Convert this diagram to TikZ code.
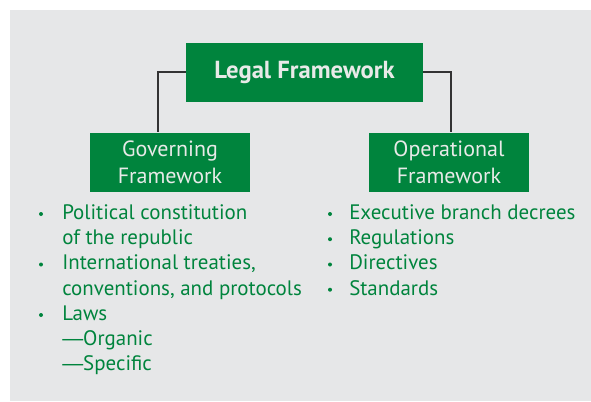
\documentclass[tikz,border=0pt]{standalone}
\usepackage{fontspec}
\setmainfont{PT Sans}
\newfontfamily\dashfont{Liberation Sans}
\usepackage{tikz}
\usetikzlibrary{positioning}
\definecolor{lawgreen}{HTML}{00843D}
\definecolor{panelgray}{HTML}{E6E7E8}
\definecolor{boxtext}{HTML}{E8EAE8}
\tikzstyle{headbox} = [rectangle, minimum width=177.75pt, minimum height=44.25pt, text centered, fill=lawgreen, text=boxtext, font=\fontsize{18.5}{20}\selectfont\bfseries]
\tikzstyle{branch} = [rectangle, minimum width=120pt, minimum height=44.25pt, align=center, fill=lawgreen, text=boxtext, font=\fontsize{16.5}{20}\selectfont]
\tikzstyle{entry} = [anchor=base west, inner sep=0pt, text=lawgreen, font=\fontsize{15.7}{18}\selectfont]
\tikzstyle{dot} = [circle, inner sep=0pt, minimum size=3pt, fill=lawgreen]
\tikzstyle{link} = [line width=0.8pt, draw=black!80]

\begin{document}
\begin{tikzpicture}[x=0.75pt, y=0.75pt, node distance=67.5pt and 100.875pt, on grid]
	\useasboundingbox (0,0) rectangle (591,-401);
	\fill[panelgray] (10,-10) rectangle (591,-401);

	\node (legal) [headbox] at (304.5,-72) {Legal Framework};
	\node (gov) [branch, below left=67.5pt and 100.875pt of legal] {Governing\\Framework};
	\node (oper) [branch, below right=67.5pt and 108.375pt of legal] {Operational\\Framework};

	\coordinate (govtop) at (158,-132);
	\coordinate (opertop) at (451,-132);
	\draw [link] (legal.west) -| (govtop);
	\draw [link] (legal.east) -| (opertop);

	% governing list
	\node (pol1) [entry] at (62,-219.3) {Political constitution};
	\node (pol2) [entry] at (62,-244.5) {of the republic};
	\node (int1) [entry] at (62,-269.8) {International treaties,};
	\node (int2) [entry] at (62,-295) {conventions, and protocols};
	\node (laws) [entry] at (62,-320.3) {Laws};
	\node (organic) [entry] at (62,-345.5) {{\dashfont\textemdash}Organic};
	\node (specific) [entry] at (62,-370.8) {{\dashfont\textemdash}Specific};
	\node (dotpol) [dot] at (41,-214) {};
	\node (dotint) [dot] at (41,-264.5) {};
	\node (dotlaws) [dot] at (41,-315) {};

	% operational list
	\node (decrees) [entry] at (349,-219.3) {Executive branch decrees};
	\node (regs) [entry] at (349,-244.5) {Regulations};
	\node (dirs) [entry] at (349,-269.8) {Directives};
	\node (stds) [entry] at (349,-295) {Standards};
	\node (dotdec) [dot] at (330,-214) {};
	\node (dotreg) [dot] at (330,-239.2) {};
	\node (dotdir) [dot] at (330,-264.5) {};
	\node (dotstd) [dot] at (330,-289.7) {};
\end{tikzpicture}
\end{document}
